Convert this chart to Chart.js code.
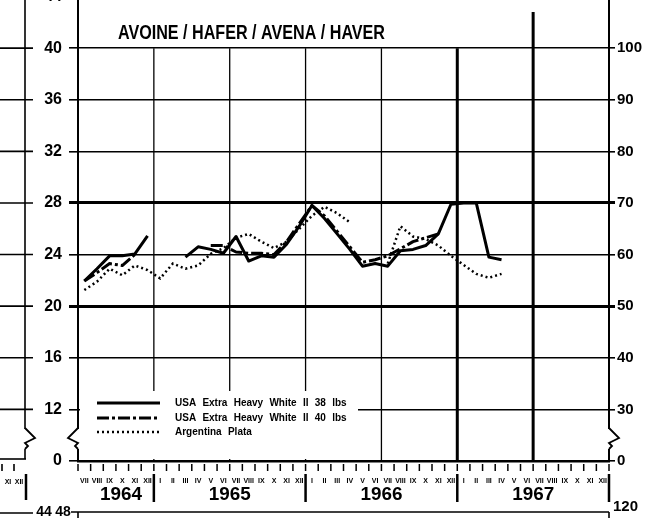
<!DOCTYPE html>
<html>
<head>
<meta charset="utf-8">
<script src="https://cdn.jsdelivr.net/npm/chart.js@4.4.1/dist/chart.umd.min.js"></script>
<style>
  html, body { margin: 0; padding: 0; background: #fff; }
  #wrap { width: 646px; height: 518px; position: relative; }
</style>
</head>
<body>
<div id="wrap"><canvas id="oatsChart"></canvas></div>
<script>
// Avoine / Hafer / Avena / Haver - monthly prices, VII 1964 .. XII 1967
const months = [
  'VII', 'VIII', 'IX', 'X', 'XI', 'XII',
  'I', 'II', 'III', 'IV', 'V', 'VI', 'VII', 'VIII', 'IX', 'X', 'XI', 'XII',
  'I', 'II', 'III', 'IV', 'V', 'VI', 'VII', 'VIII', 'IX', 'X', 'XI', 'XII',
  'I', 'II', 'III', 'IV', 'V', 'VI', 'VII', 'VIII', 'IX', 'X', 'XI', 'XII'
];
const years = ['1964', '1965', '1966', '1967'];
const yearStarts = [0, 6, 18, 30];
const yearEnds = [6, 18, 30, 42];

// left scale is broken below 12: the value 8 is printed as 0
const leftTicks = [8, 12, 16, 20, 24, 28, 32, 36, 40];
const leftLabels = ['0', '12', '16', '20', '24', '28', '32', '36', '40'];
const rightTicks = [20, 30, 40, 50, 60, 70, 80, 90, 100];
const rightLabels = ['0', '30', '40', '50', '60', '70', '80', '90', '100'];

const seriesNames = [
  'USA Extra Heavy White II 38 lbs',
  'USA Extra Heavy White II 40 lbs',
  'Argentina Plata'
];

const usa38 = [
  21.95, 22.9, 23.9, 23.9, 24.05, 25.45,
  null, null, 23.8, 24.6, 24.4, 24.1, 25.4, 23.5, 23.9, 23.8, 24.8, 26.2,
  27.8, 26.8, 25.6, 24.4, 23.1, 23.3, 23.1, 24.3, 24.4, 24.7, 25.6, 27.9,
  28.0, 28.0, 23.8, 23.6, null, null, null, null, null, null, null, null
];
const usa40 = [
  21.95, 22.6, 23.3, 23.15, 24.0, null,
  null, null, null, null, 24.7, 24.7, 24.2, 24.1, 24.1, 24.0, 25.0, 26.4,
  27.8, 27.0, 25.8, 24.6, 23.4, 23.6, 23.9, 24.45, 25.0, 25.3, 25.6, null,
  null, null, null, null, null, null, null, null, null, null, null, null
];
const argentina = [
  21.25, 21.9, 22.9, 22.4, 23.15, 22.8,
  22.15, 23.3, 22.9, 23.15, 24.05, 24.5, 25.3, 25.6, 25.0, 24.5, 25.0, 26.0,
  27.0, 27.7, 27.2, 26.5, null, null, 23.3, 26.2, 25.4, 25.2, 24.7, 23.9,
  23.2, 22.5, 22.2, 22.5, null, null, null, null, null, null, null, null
];

const FONT = '"Liberation Sans", Arial, sans-serif';
const dashDot = [12, 3, 3, 3];
const dotted = [2, 3];

// no label overflow room: the frame fills the page
function noPadding(s) {
  s.paddingTop = 0;
  s.paddingBottom = 0;
  s.paddingLeft = 0;
  s.paddingRight = 0;
}

// vertical grid lines every half year, and the small pieces round the frame
const decor = {
  id: 'decor',
  beforeDatasetsDraw(chart) {
    const { ctx, scales: { x, y } } = chart;
    const marks = [6, 12, 18, 24, 30, 36];
    ctx.save();
    ctx.strokeStyle = '#000';
    marks.forEach(m => {
      const px = x.getPixelForValue(m - 0.5);
      ctx.lineWidth = m >= 30 ? 3 : 1.3;
      ctx.beginPath();
      ctx.moveTo(px, m === 36 ? 12 : y.getPixelForValue(40));
      ctx.lineTo(px, y.getPixelForValue(8));
      ctx.stroke();
    });
    ctx.restore();
  },
  afterDatasetsDraw(chart) {
    const { ctx, scales: { y } } = chart;
    ctx.save();
    // title
    ctx.fillStyle = '#000';
    ctx.font = 'bold 20px ' + FONT;
    ctx.textBaseline = 'middle';
    ctx.textAlign = 'left';
    ctx.fillText('AVOINE / HAFER / AVENA / HAVER', 118, 33, 267);

    // legend box
    ctx.fillStyle = '#fff';
    ctx.fillRect(80, 391, 278, y.getPixelForValue(8) - 393);
    const rows = [403, 418, 432];
    const dashes = [[], dashDot, dotted];
    const widths = [3, 3, 2.5];
    ctx.strokeStyle = '#000';
    rows.forEach((ry, i) => {
      ctx.lineWidth = widths[i];
      ctx.setLineDash(dashes[i]);
      ctx.beginPath();
      ctx.moveTo(97, ry);
      ctx.lineTo(160, ry);
      ctx.stroke();
    });
    ctx.setLineDash([]);
    ctx.fillStyle = '#000';
    ctx.font = 'bold 10px ' + FONT;
    ctx.wordSpacing = '3.5px';
    rows.forEach((ry, i) => ctx.fillText(seriesNames[i], 175, ry));
    ctx.restore();
  },
  afterDraw(chart) {
    const { ctx, scales: { x, y } } = chart;
    const bottom = y.getPixelForValue(8);
    ctx.save();
    ctx.strokeStyle = '#000';
    ctx.fillStyle = '#000';

    // cut-off 44 on top of the left scale
    ctx.font = 'bold 16px ' + FONT;
    ctx.textAlign = 'right';
    ctx.textBaseline = 'middle';
    ctx.fillText('44', 62, y.getPixelForValue(44));

    // month tick marks
    ctx.lineWidth = 1.5;
    for (let m = 0; m <= months.length; m++) {
      const px = x.getPixelForValue(m - 0.5);
      ctx.beginPath();
      ctx.moveTo(px, 464);
      ctx.lineTo(px, 471);
      ctx.stroke();
    }

    // year labels and separators
    ctx.font = 'bold 19px ' + FONT;
    ctx.textAlign = 'center';
    years.forEach((yr, i) => {
      const a = x.getPixelForValue(yearStarts[i] - 0.5);
      const b = x.getPixelForValue(yearEnds[i] - 0.5);
      ctx.fillText(yr, (a + b) / 2 + (i === 0 ? 5 : 0), 495, 42);
      ctx.lineWidth = 2.5;
      ctx.beginPath();
      ctx.moveTo(b, 474);
      ctx.lineTo(b, 502);
      ctx.stroke();
    });

    // neighbouring panel on the left
    ctx.lineWidth = 1.6;
    ctx.beginPath();
    ctx.moveTo(25, 0);
    ctx.lineTo(25, bottom - 2);
    ctx.stroke();
    leftTicks.slice(1).forEach(v => {
      const py = y.getPixelForValue(v);
      ctx.beginPath();
      ctx.moveTo(0, py);
      ctx.lineTo(33, py);
      ctx.stroke();
    });
    ctx.beginPath();
    ctx.moveTo(0, bottom - 2);
    ctx.lineTo(26, bottom - 2);
    ctx.stroke();
    [2, 14].forEach(px => {
      ctx.beginPath();
      ctx.moveTo(px, 464);
      ctx.lineTo(px, 471);
      ctx.stroke();
    });
    ctx.lineWidth = 2.5;
    ctx.beginPath();
    ctx.moveTo(26, 474);
    ctx.lineTo(26, 500);
    ctx.stroke();
    ctx.font = 'bold 7px ' + FONT;
    ctx.fillText('XI', 8, 482);
    ctx.fillText('XII', 19, 482);

    // panel below
    ctx.lineWidth = 1.6;
    ctx.beginPath();
    ctx.moveTo(0, 513);
    ctx.lineTo(33, 513);
    ctx.moveTo(71, 512);
    ctx.lineTo(609, 512);
    ctx.moveTo(78, 512);
    ctx.lineTo(78, 518);
    ctx.moveTo(609, 512);
    ctx.lineTo(609, 518);
    ctx.stroke();
    ctx.font = 'bold 14px ' + FONT;
    ctx.fillText('44', 44, 512);
    ctx.fillText('48', 63, 512);
    ctx.textAlign = 'left';
    ctx.font = 'bold 15px ' + FONT;
    ctx.fillText('120', 613, 507);

    // axis breaks
    const breaks = [[25, 1], [x.left, -1], [x.right, 1]];
    breaks.forEach(([bx, dir]) => {
      ctx.fillStyle = '#fff';
      ctx.fillRect(bx - 3, 429, 6, 20);
      ctx.lineWidth = 1.8;
      ctx.beginPath();
      ctx.moveTo(bx, 428);
      ctx.lineTo(bx + dir * 10, 438);
      ctx.lineTo(bx, 443);
      ctx.lineTo(bx + dir * 3, 446);
      ctx.lineTo(bx, 449);
      ctx.stroke();
    });
    ctx.restore();
  }
};

const ctx = document.getElementById('oatsChart').getContext('2d');
const chart = new Chart(ctx, {
  type: 'line',
  data: {
    labels: months,
    datasets: [
      {
        label: seriesNames[0],
        data: usa38,
        borderColor: '#000',
        borderWidth: 3,
        pointRadius: 0,
        borderJoinStyle: 'round',
        yAxisID: 'y'
      },
      {
        label: seriesNames[1],
        data: usa40,
        borderColor: '#000',
        borderWidth: 3,
        borderDash: dashDot,
        pointRadius: 0,
        borderJoinStyle: 'round',
        yAxisID: 'y'
      },
      {
        label: seriesNames[2],
        data: argentina,
        borderColor: '#000',
        borderWidth: 2.5,
        borderDash: dotted,
        pointRadius: 0,
        yAxisID: 'y'
      }
    ]
  },
  options: {
    responsive: true,
    maintainAspectRatio: false,
    animation: false,
    layout: { padding: 0 },
    plugins: {
      legend: { display: false },
      tooltip: { enabled: false },
      title: { display: false }
    },
    scales: {
      x: {
        type: 'category',
        offset: true,
        afterFit: s => { s.height = 57; noPadding(s); },
        grid: { display: true, drawOnChartArea: false, drawTicks: false, offset: true },
        border: { color: '#000', width: 2.5 },
        ticks: {
          autoSkip: false,
          maxRotation: 0,
          padding: 16,
          color: '#000',
          font: { family: FONT, size: 7, weight: 'bold' }
        }
      },
      y: {
        position: 'left',
        min: 8,
        max: 43.73,
        afterBuildTicks: s => { s.ticks = leftTicks.map(v => ({ value: v })); },
        afterFit: s => { s.width = 78; noPadding(s); },
        ticks: {
          callback: v => leftLabels[leftTicks.indexOf(v)],
          color: '#000',
          padding: 7,
          font: { family: FONT, size: 16, weight: 'bold' }
        },
        grid: {
          color: '#000',
          lineWidth: c => (c.tick && (c.tick.value === 28 || c.tick.value === 20)) ? 3 : 1.6,
          tickLength: 9
        },
        border: { color: '#000', width: 2 }
      },
      y2: {
        position: 'right',
        min: 20,
        max: 109.33,
        afterBuildTicks: s => { s.ticks = rightTicks.map(v => ({ value: v })); },
        afterFit: s => { s.width = 37; noPadding(s); },
        ticks: {
          callback: v => rightLabels[rightTicks.indexOf(v)],
          color: '#000',
          padding: 2,
          font: { family: FONT, size: 15, weight: 'bold' }
        },
        grid: {
          drawOnChartArea: false,
          color: '#000',
          lineWidth: c => (c.tick && (c.tick.value === 70 || c.tick.value === 50)) ? 3 : 1.6,
          tickLength: 6
        },
        border: { color: '#000', width: 2 }
      }
    }
  },
  plugins: [decor]
});
</script>
</body>
</html>
